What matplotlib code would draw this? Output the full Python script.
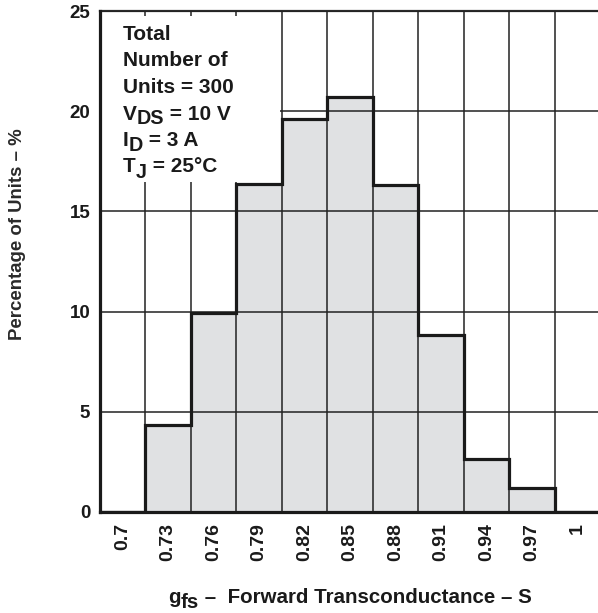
import numpy as np
import matplotlib
matplotlib.use("Agg")
import matplotlib.pyplot as plt
from matplotlib.transforms import IdentityTransform
from matplotlib.patches import Rectangle

plt.rcParams['font.family'] = ['Liberation Sans', 'DejaVu Sans']

categories = ['0.7', '0.73', '0.76', '0.79', '0.82', '0.85', '0.88', '0.91', '0.94', '0.97', '1']
percent = [0, 4.35, 9.95, 16.35, 19.6, 20.7, 16.3, 8.85, 2.65, 1.2, 0]
y_ticks = [0, 5, 10, 15, 20, 25]

W, H = 598, 613
fig = plt.figure(figsize=(W / 100, H / 100), dpi=100)
ax = fig.add_axes([100 / W, 1 - 512 / H, 500 / W, 501 / H])

x = np.arange(len(categories))
edges = np.arange(len(categories) + 1) - 0.5
ax.bar(x, percent, width=1.0, color='#e0e1e3', edgecolor='none', zorder=1)
ax.stairs(percent, edges, baseline=0, color='#1a1a1a', linewidth=2.3, zorder=4)

ax.set_xlim(edges[0], edges[-1])
ax.set_ylim(0, 25)
ax.set_xticks(x)
ax.set_xticklabels(categories, rotation=90, fontweight='bold', fontsize=14, color='#1a1a1a')
ax.set_xticks(edges[1:-1], minor=True)
ax.set_yticks(y_ticks)
ax.set_yticklabels([str(v) for v in y_ticks], fontweight='bold', fontsize=13.5, color='#1a1a1a')
ax.tick_params(axis='both', which='both', length=0)
ax.tick_params(axis='x', pad=8)
ax.tick_params(axis='y', pad=7)

ax.set_axisbelow(False)
ax.grid(False)
ax.xaxis.grid(True, which='minor', color='#222222', linewidth=1.1)
ax.yaxis.grid(True, which='major', color='#222222', linewidth=1.1)

# white annotation box
ax.add_patch(Rectangle((edges[0], 16.45), 3.45 - edges[0], 24.75 - 16.45,
                       facecolor='white', edgecolor='none', zorder=3))

for side in ['left', 'bottom']:
    ax.spines[side].set_linewidth(2.3)
    ax.spines[side].set_color('#1a1a1a')
    ax.spines[side].set_zorder(5)
ax.spines['top'].set_linewidth(1.6)
ax.spines['top'].set_color('#2a2a2a')
ax.spines['right'].set_visible(False)

renderer = fig.canvas.get_renderer()
T = IdentityTransform()


def composite(x0, y_base, parts, size, color='#1a1a1a'):
    """parts: list of (text, dy_px, scale). y_base in image px from top."""
    texts = []
    cx = x0
    for s, dy, sc in parts:
        t = fig.text(cx, H - y_base - dy, s, transform=T, fontsize=size * sc,
                     fontweight='bold', color=color, ha='left', va='baseline', zorder=10)
        bb = t.get_window_extent(renderer)
        cx = bb.x1
        texts.append(t)
    return texts


fs = 15
lx = 123
composite(lx, 40, [("Total", 0, 1)], fs)
composite(lx, 66.5, [("Number of", 0, 1)], fs)
composite(lx, 93, [("Units = 300", 0, 1)], fs)
composite(lx, 119.5, [("V", 0, 1), ("DS", 5, 0.95), (" = 10 V", 0, 1)], fs)
composite(lx, 146, [("I", 0, 1), ("D", 5, 0.95), (" = 3 A", 0, 1)], fs)
composite(lx, 172.5, [("T", 0, 1), ("J", 5, 0.95), (" = 25°C", 0, 1)], fs)

# x label
composite(168, 603, [("g", 0, 1), ("fs", 5, 1.0), (" –  Forward Transconductance – S", 0, 1)], 14.8)

fig.text(18 / W, 1 - 234 / H, "Percentage of Units – %", rotation=90, fontsize=13.4,
         fontweight='bold', color='#2a2a2a', ha='center', va='center')

fig.savefig("out.png", dpi=100)
